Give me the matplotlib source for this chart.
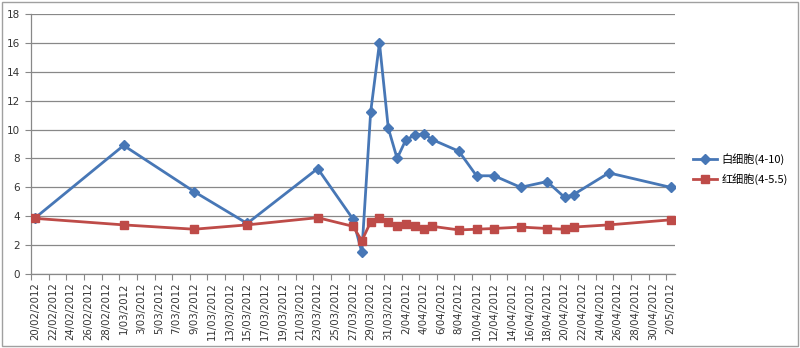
import datetime as dt
import matplotlib
matplotlib.use('Agg')
import matplotlib.pyplot as plt
import matplotlib.dates as mdates
from matplotlib.patches import Rectangle
from matplotlib.ticker import FixedLocator, FuncFormatter, MultipleLocator

plt.rcParams['font.family'] = ['DejaVu Sans']

# sample dates (day/month/year)
dates = ['20/02/2012', '1/03/2012', '9/03/2012', '15/03/2012', '23/03/2012', '27/03/2012',
         '28/03/2012', '29/03/2012', '30/03/2012', '31/03/2012', '1/04/2012', '2/04/2012',
         '3/04/2012', '4/04/2012', '5/04/2012', '8/04/2012', '10/04/2012', '12/04/2012',
         '15/04/2012', '18/04/2012', '20/04/2012', '21/04/2012', '25/04/2012', '2/05/2012']
wbc = [3.9, 8.9, 5.7, 3.5, 7.3, 3.8, 1.5, 11.2, 16.0, 10.1, 8.0, 9.3,
       9.6, 9.7, 9.3, 8.5, 6.8, 6.8, 6.0, 6.4, 5.3, 5.5, 7.0, 6.0]
rbc = [3.85, 3.4, 3.1, 3.4, 3.9, 3.3, 2.3, 3.6, 3.85, 3.6, 3.35, 3.45,
       3.3, 3.15, 3.3, 3.05, 3.1, 3.15, 3.25, 3.15, 3.1, 3.25, 3.4, 3.75]
labels = ['白细胞(4-10)', '红细胞(4-5.5)']

x = [mdates.date2num(dt.datetime.strptime(d, '%d/%m/%Y')) for d in dates]
x0, x1 = x[0], x[-1]

fig = plt.figure(figsize=(8, 3.48), dpi=100)
ax = fig.add_axes([31 / 800, 1 - 274 / 348, (675 - 31) / 800, (274 - 14) / 348])

blue = '#4777B6'
red = '#BE4B48'
grey = '#888888'

ax.plot(x, wbc, color=blue, lw=2.0, marker='D', ms=5.3, label=labels[0], zorder=3)
ax.plot(x, rbc, color=red, lw=2.0, marker='s', ms=5.8, label=labels[1], zorder=3)

ax.set_xlim(x0 - 0.5, x1 + 0.5)
ax.set_ylim(0, 18)
ax.yaxis.set_major_locator(MultipleLocator(2))
ax.grid(axis='y', color=grey, lw=0.9)
ax.set_axisbelow(True)

# date labels every 2 days, tick marks between them
major = [x0 + 2 * k for k in range(int((x1 - x0) // 2) + 1)]
minor = [v - 0.5 for v in major[1:]] + [x0 - 0.5]
ax.xaxis.set_major_locator(FixedLocator(major))
ax.xaxis.set_minor_locator(FixedLocator(minor))


def fmt_date(v, pos):
    d = mdates.num2date(v)
    return f'{d.day}/{d.month:02d}/{d.year}'


ax.xaxis.set_major_formatter(FuncFormatter(fmt_date))
ax.tick_params(axis='x', which='major', length=0, pad=6, labelsize=7.3, rotation=90, labelcolor='#333333')
ax.tick_params(axis='x', which='minor', length=4, width=0.8, color=grey, direction='out')
ax.tick_params(axis='y', length=4, width=0.8, color=grey, pad=4, labelsize=7.5, labelcolor='#333333')

for s in ['top', 'right']:
    ax.spines[s].set_visible(False)
for s in ['left', 'bottom']:
    ax.spines[s].set_color(grey)
    ax.spines[s].set_linewidth(0.9)

leg = fig.legend(loc='upper left', bbox_to_anchor=(693 / 800, 1 - 153 / 348), frameon=False,
                 prop={'family': ['Noto Sans CJK SC', 'DejaVu Sans'], 'size': 8},
                 handlelength=2.2, handletextpad=0.35, labelspacing=0.75,
                 borderpad=0, borderaxespad=0)

fig.patches.append(Rectangle((2 / 800, 2 / 348), 796 / 800, 344 / 348, transform=fig.transFigure,
                             fill=False, edgecolor='#A0A0A0', lw=1.0))

fig.savefig('out.png', dpi=100)
